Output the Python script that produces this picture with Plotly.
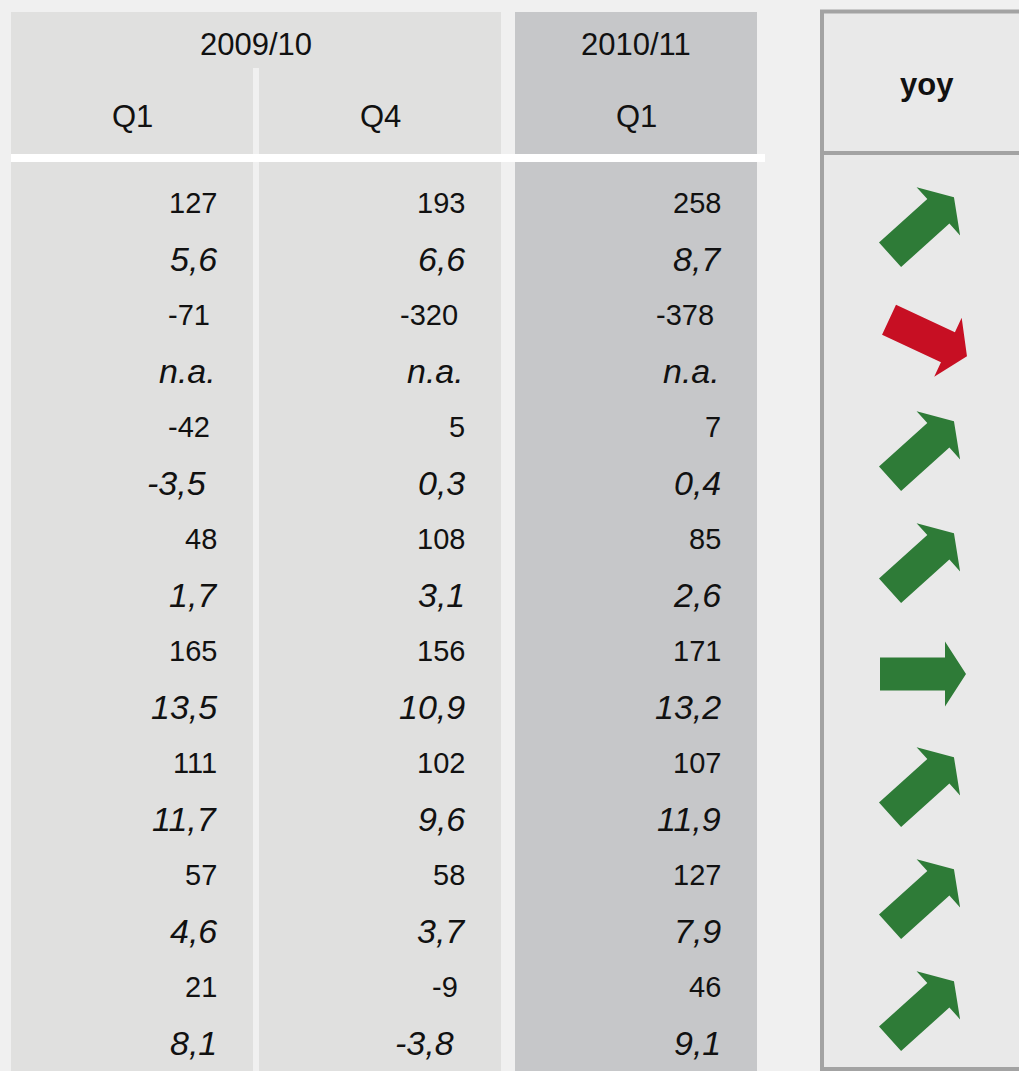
import math
import plotly.graph_objects as go

# ---------------- data ----------------
period_groups = ["2009/10", "2010/11"]
quarter_labels = ["Q1", "Q4", "Q1"]
trend_header = "yoy"

# absolute values (one per row pair) and margins (None = n.a.)
q1_0910_value = [127, -71, -42, 48, 165, 111, 57, 21]
q1_0910_margin = [5.6, None, -3.5, 1.7, 13.5, 11.7, 4.6, 8.1]
q4_0910_value = [193, -320, 5, 108, 156, 102, 58, -9]
q4_0910_margin = [6.6, None, 0.3, 3.1, 10.9, 9.6, 3.7, -3.8]
q1_1011_value = [258, -378, 7, 85, 171, 107, 127, 46]
q1_1011_margin = [8.7, None, 0.4, 2.6, 13.2, 11.9, 7.9, 9.1]
yoy_trend = ["up", "down", "up", "up", "flat", "up", "up", "up"]

# ---------------- layout constants ----------------
W, H = 1019, 1071
BG = "#f0f0f0"
PANEL = "#e0e0df"
PANEL_DARK = "#c6c7c9"
YOY_FILL = "#e9e9e9"
YOY_BORDER = "#a3a3a3"
GREEN = "#2e7b37"
RED = "#c70f23"
FONT = "Liberation Sans, Arial, sans-serif"

col_left = [11, 259, 515]
col_w = 242
pad_right = 34
row0 = 203
row_step = 56

trend_angle = {"up": 42, "down": -25, "flat": 0}
trend_color = {"up": GREEN, "down": RED, "flat": GREEN}
trend_dx = {"up": -1, "down": 5, "flat": 0}


def fmt_margin(v):
    return "n.a." if v is None else f"{v:.1f}".replace(".", ",")


fig = go.Figure()
fig.add_trace(go.Scatter(x=[0, W], y=[0, H], mode="markers",
                         marker=dict(opacity=0), hoverinfo="skip", showlegend=False))

shapes = []
# panels
shapes.append(dict(type="rect", x0=col_left[0], x1=col_left[1] + col_w, y0=12, y1=68,
                   fillcolor=PANEL, line=dict(width=0), layer="below"))
for i in range(2):
    shapes.append(dict(type="rect", x0=col_left[i], x1=col_left[i] + col_w, y0=68, y1=H,
                       fillcolor=PANEL, line=dict(width=0), layer="below"))
shapes.append(dict(type="rect", x0=col_left[2], x1=col_left[2] + col_w, y0=12, y1=H,
                   fillcolor=PANEL_DARK, line=dict(width=0), layer="below"))
# white header rule
shapes.append(dict(type="rect", x0=11, x1=765, y0=154, y1=162,
                   fillcolor="white", line=dict(width=0), layer="below"))
# yoy box
shapes.append(dict(type="rect", x0=822, x1=W + 20, y0=11.5, y1=1069,
                   fillcolor=YOY_FILL, line=dict(color=YOY_BORDER, width=4), layer="below"))
shapes.append(dict(type="line", x0=822, x1=W + 20, y0=153, y1=153,
                   line=dict(color=YOY_BORDER, width=4), layer="below"))

annotations = []
# headers
annotations.append(dict(x=(col_left[0] + col_left[1] + col_w) / 2, y=44, text=period_groups[0]))
annotations.append(dict(x=col_left[2] + col_w / 2, y=44, text=period_groups[1]))
for i, q in enumerate(quarter_labels):
    annotations.append(dict(x=col_left[i] + col_w / 2, y=116, text=q))
for a in annotations:
    a.update(xref="x", yref="y", showarrow=False, xanchor="center", yanchor="middle",
             font=dict(family=FONT, size=31, color="#111"))
annotations.append(dict(x=927, y=84, xref="x", yref="y", showarrow=False,
                        text="<b>" + trend_header + "</b>", xanchor="center", yanchor="middle",
                        font=dict(family=FONT, size=31, color="#111")))

columns = [(q1_0910_value, q1_0910_margin), (q4_0910_value, q4_0910_margin),
           (q1_1011_value, q1_1011_margin)]
for ci, (vals, margins) in enumerate(columns):
    xr = col_left[ci] + col_w - pad_right
    for k, (v, m) in enumerate(zip(vals, margins)):
        y_v = row0 + row_step * (2 * k)
        y_m = row0 + row_step * (2 * k + 1)
        annotations.append(dict(x=xr, y=y_v, xref="x", yref="y", showarrow=False,
                                text=str(v), xanchor="right", yanchor="middle",
                                xshift=-7 if v < 0 else 0,
                                font=dict(family=FONT, size=29, color="#111")))
        if m is None:
            sh = -1
        elif m < 0:
            sh = -11
        else:
            sh = 0
        annotations.append(dict(x=xr, y=y_m, xref="x", yref="y", showarrow=False,
                                text="<i>" + fmt_margin(m) + "</i>", xanchor="right",
                                yanchor="middle", xshift=sh,
                                font=dict(family=FONT, size=34, color="#111")))

# arrows
L, shaft_hw, head_hw, head_len = 86, 16.5, 32.5, 21
local = [(-L / 2, -shaft_hw), (L / 2 - head_len, -shaft_hw), (L / 2 - head_len, -head_hw),
         (L / 2, 0), (L / 2 - head_len, head_hw), (L / 2 - head_len, shaft_hw),
         (-L / 2, shaft_hw)]
arrow_cx = 923
for k, t in enumerate(yoy_trend):
    cy = row0 + row_step * (2 * k) + row_step / 2 - 5
    cx = arrow_cx + trend_dx[t]
    th = math.radians(trend_angle[t])
    pts = []
    for (lx, ly) in local:
        xr_ = lx * math.cos(th) - ly * math.sin(th)
        yr_ = lx * math.sin(th) + ly * math.cos(th)
        pts.append((cx + xr_, cy - yr_))
    path = "M " + " L ".join(f"{px:.2f},{py:.2f}" for px, py in pts) + " Z"
    shapes.append(dict(type="path", path=path, fillcolor=trend_color[t],
                       line=dict(width=0), layer="above"))

fig.update_layout(
    width=W, height=H, margin=dict(l=0, r=0, t=0, b=0),
    paper_bgcolor=BG, plot_bgcolor=BG,
    xaxis=dict(range=[0, W], visible=False, fixedrange=True),
    yaxis=dict(range=[H, 0], visible=False, fixedrange=True),
    shapes=shapes, annotations=annotations, showlegend=False,
)
fig.write_html("out.html", config={"displayModeBar": False},
               post_script="document.body.style.margin='0';document.body.style.overflow='hidden';")
